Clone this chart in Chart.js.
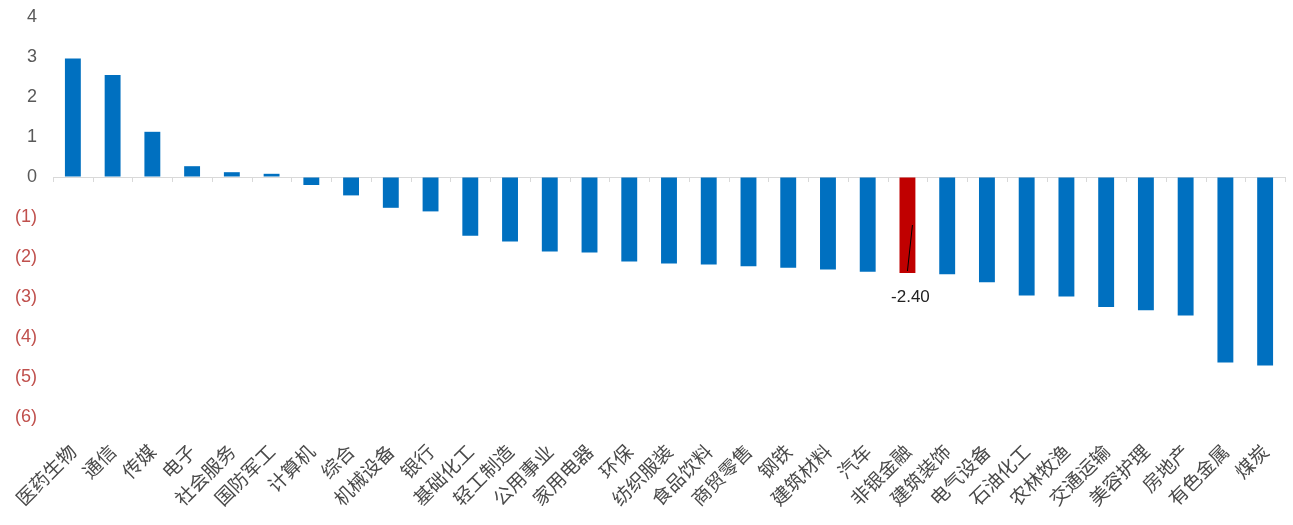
<!DOCTYPE html>
<html>
<head>
<meta charset="utf-8">
<script src="https://cdn.jsdelivr.net/npm/chart.js@4.4.0/dist/chart.umd.min.js"></script>
<style>
  html, body { margin: 0; padding: 0; background: #fff; }
  #wrap { width: 1293px; height: 525px; position: relative; }
</style>
</head>
<body>
<div id="wrap"><canvas id="barChart"></canvas></div>
<script>
// industries, sorted by change
var industries = ['医药生物', '通信', '传媒', '电子', '社会服务', '国防军工', '计算机', '综合', '机械设备', '银行',
  '基础化工', '轻工制造', '公用事业', '家用电器', '环保', '纺织服装', '食品饮料', '商贸零售', '钢铁', '建筑材料',
  '汽车', '非银金融', '建筑装饰', '电气设备', '石油化工', '农林牧渔', '交通运输', '美容护理', '房地产', '有色金属', '煤炭'];
var changes = [2.96, 2.55, 1.13, 0.27, 0.12, 0.08, -0.2, -0.46, -0.77, -0.86,
  -1.47, -1.61, -1.86, -1.89, -2.11, -2.16, -2.19, -2.23, -2.27, -2.31,
  -2.37, -2.40, -2.43, -2.63, -2.96, -2.99, -3.25, -3.33, -3.46, -4.64, -4.71];
var highlight = '非银金融';
var yTicks = [4, 3, 2, 1, 0, -1, -2, -3, -4, -5, -6];

var barColors = industries.map(function (name) {
  return name === highlight ? '#c00000' : '#0070c0';
});

// tick marks along the zero line + label for the highlighted bar
var zeroTicks = {
  id: 'zeroTicks',
  afterDatasetsDraw: function (chart) {
    var ctx = chart.ctx;
    var x = chart.scales.x;
    var y = chart.scales.y;
    var y0 = y.getPixelForValue(0);
    var step = x.getPixelForValue(1) - x.getPixelForValue(0);
    ctx.save();
    ctx.strokeStyle = '#d9d9d9';
    ctx.lineWidth = 1;
    ctx.beginPath();
    for (var i = 0; i <= industries.length; i++) {
      var px = Math.round(x.getPixelForValue(i) - step / 2) + 0.5;
      ctx.moveTo(px, y0);
      ctx.lineTo(px, y0 + 5);
    }
    ctx.stroke();

    var idx = industries.indexOf(highlight);
    var v = changes[idx];
    var bx = x.getPixelForValue(idx);
    ctx.strokeStyle = '#000';
    ctx.beginPath();
    ctx.moveTo(bx + 5, y.getPixelForValue(v * 0.5));
    ctx.lineTo(bx, y.getPixelForValue(v) - 2);
    ctx.stroke();
    ctx.fillStyle = '#222';
    ctx.font = '17px "Liberation Sans", Arial, sans-serif';
    ctx.textAlign = 'center';
    ctx.textBaseline = 'middle';
    ctx.fillText(v.toFixed(2), bx + 3, y.getPixelForValue(v) + 24);
    ctx.restore();
  }
};

var barCtx = document.getElementById('barChart').getContext('2d');
var barChart = new Chart(barCtx, {
  type: 'bar',
  data: {
    labels: industries,
    datasets: [{
      label: '涨跌幅',
      data: changes,
      backgroundColor: barColors,
      borderWidth: 0,
      categoryPercentage: 1,
      barPercentage: 0.4
    }]
  },
  options: {
    responsive: true,
    maintainAspectRatio: false,
    animation: false,
    layout: {
      padding: { top: 17, right: 8, left: 0, bottom: 0 }
    },
    plugins: {
      legend: { display: false },
      tooltip: { enabled: false }
    },
    scales: {
      x: {
        border: { display: false },
        grid: { display: false },
        ticks: {
          autoSkip: false,
          maxRotation: 45,
          minRotation: 45,
          padding: 15,
          color: '#4a4a4a',
          font: { family: '"Noto Sans CJK SC", sans-serif', size: 19 }
        },
        afterFit: function (scale) {
          scale.height = 108;
          scale.paddingLeft = 0;
          scale.paddingRight = 0;
        }
      },
      y: {
        min: -6,
        max: 4,
        border: { display: false },
        grid: {
          drawTicks: false,
          color: function (c) { return c.tick && c.tick.value === 0 ? '#d9d9d9' : 'rgba(0,0,0,0)'; }
        },
        afterBuildTicks: function (scale) {
          scale.ticks = yTicks.map(function (v) { return { value: v }; });
        },
        ticks: {
          padding: 16,
          color: function (c) { return c.tick.value < 0 ? '#c0504d' : '#595959'; },
          font: { family: '"Liberation Sans", Arial, sans-serif', size: 18 },
          callback: function (v) { return v < 0 ? '(' + (-v) + ')' : String(v); }
        },
        afterFit: function (scale) {
          scale.width = 53;
          scale.paddingTop = 0;
          scale.paddingBottom = 0;
        }
      }
    }
  },
  plugins: [zeroTicks]
});
</script>
</body>
</html>
